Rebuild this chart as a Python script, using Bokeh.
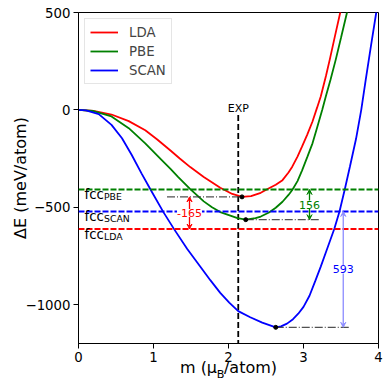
from bokeh.plotting import figure
from bokeh.models import Range1d, FixedTicker, Label, Arrow, VeeHead, Span, LinearAxis
from bokeh.embed import file_html
from bokeh.resources import INLINE

# ---- data ----
m_lda = [0, 0.2, 0.44, 0.67, 0.89, 1.05, 1.23, 1.35, 1.49, 1.67, 1.89, 2.05, 2.18,
         2.3, 2.43, 2.54, 2.63, 2.72, 2.8, 2.85, 2.92, 2.98, 3.05, 3.12, 3.18, 3.23,
         3.3, 3.35, 3.42, 3.49, 3.52]
e_lda = [0, -5, -24, -58, -105, -152, -210, -250, -294, -345, -400, -432, -447,
         -443, -426, -403, -385, -361, -322, -292, -240, -189, -127, -60, 10, 69,
         175, 258, 380, 500, 555]

m_pbe = [0, 0.2, 0.44, 0.67, 0.89, 1.11, 1.23, 1.33, 1.49, 1.67, 1.78, 1.89, 2.12, 2.23,
         2.36, 2.43, 2.54, 2.63, 2.72, 2.8, 2.85, 2.92, 2.98, 3.05, 3.12, 3.18, 3.25,
         3.3, 3.36, 3.43, 3.5, 3.58, 3.61]
e_pbe = [0, -6, -34, -94, -172, -258, -305, -345, -407, -470, -500, -525, -556, -564,
         -556, -548, -527, -503, -472, -437, -412, -366, -312, -243, -172, -93, 0,
         72, 155, 258, 370, 500, 550]

m_scan = [0, 0.1, 0.27, 0.44, 0.58, 0.71, 0.84, 0.96, 1.13, 1.27, 1.45, 1.63, 1.76,
          1.89, 2.01, 2.13, 2.29, 2.45, 2.63, 2.7, 2.78, 2.86, 2.93, 3.0, 3.08, 3.16,
          3.23, 3.3, 3.41, 3.48, 3.55, 3.62, 3.7, 3.77, 3.83, 3.9, 3.97, 3.99]
e_scan = [0, -3, -22, -77, -146, -232, -326, -409, -524, -610, -715, -808, -876,
          -940, -990, -1034, -1065, -1093, -1117, -1112, -1098, -1075, -1047, -1012, -955, -876,
          -805, -730, -612, -522, -409, -290, -150, 0, 155, 330, 500, 550]

methods = ["LDA", "PBE", "SCAN"]
colors = ["red", "green", "blue"]
fcc_e = [-612, -409, -522]          # fcc reference energies
m_min = [2.18, 2.23, 2.63]           # minima positions
e_min = [-447, -564, -1117]          # minima energies
ref_x0 = [1.18, 2.23, 2.63]          # dash-dot reference line start
ref_x1 = [2.18, 3.23, 3.63]          # dash-dot reference line end
ann_x = [1.48, 3.08, 3.53]           # difference arrows x
ann_text = ["-165", "156", "593"]
ann_line_colors = ["red", "green", "#8c8cff"]
m_exp = 2.13
x_ticks = [0, 1, 2, 3, 4]
y_ticks = [-1000, -500, 0, 500]
y_tick_labels = ["\u22121000", "\u2212500", "0", "500"]
x_label_parts = ["m (\u03bc", "B", "/atom)"]

FONT = "DejaVu Sans"

p = figure(frame_width=300, frame_height=331,
           x_range=Range1d(0, 4), y_range=Range1d(-1200, 500),
           output_backend="svg", toolbar_location=None,
           min_border_left=78, min_border_right=8, min_border_top=12, min_border_bottom=40)
p.xgrid.visible = False
p.ygrid.visible = False
p.outline_line_color = "black"
p.outline_line_width = 1

for ax in (p.xaxis, p.yaxis):
    ax.major_label_text_font = FONT
    ax.major_label_text_font_size = "13.3px"
    ax.major_label_text_color = "black"
    ax.axis_line_color = "black"
    ax.major_tick_line_color = "black"
    ax.major_tick_out = 5
    ax.major_tick_in = 0
    ax.minor_tick_line_color = None
    ax.major_label_standoff = 3
p.xaxis.ticker = FixedTicker(ticks=x_ticks)
p.yaxis.ticker = FixedTicker(ticks=y_ticks)
p.yaxis.major_label_overrides = {t: s for t, s in zip(y_ticks, y_tick_labels)}
p.yaxis.axis_label = "\u0394E (meV/atom)"
p.yaxis.axis_label_text_font = FONT
p.yaxis.axis_label_text_font_size = "16px"
p.yaxis.axis_label_text_font_style = "normal"
p.yaxis.axis_label_text_color = "black"
p.yaxis.axis_label_standoff = -7

# x-axis title with a subscript, built from two label-only axes in screen-like units
p.extra_x_ranges = {"lab": Range1d(0, 300)}
lab_main = LinearAxis(x_range_name="lab", ticker=FixedTicker(ticks=[120, 172]),
                      major_label_overrides={120: x_label_parts[0], 172: x_label_parts[2]})
lab_sub = LinearAxis(x_range_name="lab", ticker=FixedTicker(ticks=[142]),
                     major_label_overrides={142: x_label_parts[1]})
for ax, fs, so in ((lab_main, "16px", -7), (lab_sub, "11.2px", -12)):
    ax.axis_line_color = None
    ax.major_tick_line_color = None
    ax.minor_tick_line_color = None
    ax.major_tick_out = 0
    ax.major_tick_in = 0
    ax.minor_tick_out = 0
    ax.minor_tick_in = 0
    ax.major_label_text_font = FONT
    ax.major_label_text_font_size = fs
    ax.major_label_text_color = "black"
    ax.major_label_standoff = so
    p.add_layout(ax, "below")

# fcc reference lines
for e, c in zip(fcc_e, colors):
    p.add_layout(Span(location=e, dimension="width", line_color=c,
                      line_dash="6 2", line_width=1.8))

# EXP vertical line
p.segment(x0=[m_exp], y0=[-26], x1=[m_exp], y1=[-1200], line_color="black",
          line_dash="6 3", line_width=1.8)

# curves
p.line(m_lda, e_lda, line_color="red", line_width=1.8, legend_label="LDA")
p.line(m_pbe, e_pbe, line_color="green", line_width=1.8, legend_label="PBE")
p.line(m_scan, e_scan, line_color="blue", line_width=1.8, legend_label="SCAN")

# dash-dot reference lines at the minima
p.segment(x0=ref_x0, y0=e_min, x1=ref_x1, y1=e_min, line_color="#333333",
          line_alpha=0.85, line_dash="8 2 1 2", line_width=1.3)
p.scatter(m_min, e_min, size=4, color="black")

# difference arrows
for i in range(3):
    mid = (e_min[i] + fcc_e[i]) / 2
    for yend in (e_min[i], fcc_e[i]):
        p.add_layout(Arrow(x_start=ann_x[i], y_start=mid, x_end=ann_x[i], y_end=yend,
                           line_color=ann_line_colors[i], line_width=1.3,
                           end=VeeHead(size=5, line_color=ann_line_colors[i],
                                       fill_color=ann_line_colors[i], line_width=1)))
for i in range(3):
    mid = (e_min[i] + fcc_e[i]) / 2
    p.add_layout(Label(x=ann_x[i], y=mid, text=ann_text[i], text_color=colors[i],
                       text_font=FONT, text_font_size="11px", text_align="center",
                       text_baseline="middle", background_fill_color="white"))

# fcc labels with subscripts
for e, name in zip(fcc_e, methods):
    p.add_layout(Label(x=0.08, y=e, y_offset=-5, text="fcc", text_font=FONT,
                       text_font_size="13.3px", text_baseline="alphabetic",
                       text_align="left", text_color="black"))
    p.add_layout(Label(x=0.08, x_offset=19.5, y=e, y_offset=-7.5, text=name,
                       text_font=FONT, text_font_size="9.3px",
                       text_baseline="alphabetic", text_align="left", text_color="black"))

# EXP label
p.add_layout(Label(x=m_exp, y=0, y_offset=1, text="EXP", text_font=FONT,
                   text_font_size="11px", text_align="center",
                   text_baseline="alphabetic", text_color="black"))

# legend
lg = p.legend[0]
lg.location = "top_left"
lg.margin = 6
lg.padding = 5
lg.spacing = 3
lg.glyph_width = 28
lg.glyph_height = 16
lg.label_height = 16
lg.label_standoff = 11
lg.label_text_font = FONT
lg.label_text_font_size = "13.3px"
lg.border_line_color = "#cccccc"
lg.background_fill_alpha = 0.8

open("out.html", "w").write(file_html(p, INLINE))
